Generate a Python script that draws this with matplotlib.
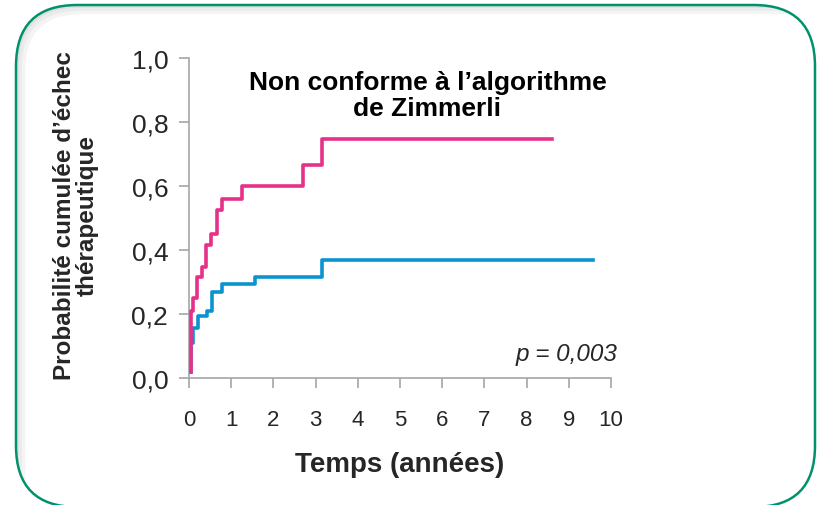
import matplotlib.pyplot as plt
from matplotlib.patches import FancyBboxPatch

plt.rcParams['font.family'] = ['Liberation Sans', 'DejaVu Sans']

# ── DATA ─────────────────────────────────────────────────
# courbe rose (non conforme)
pink_t = [0.05, 0.05, 0.10, 0.18, 0.31, 0.40, 0.53, 0.66, 0.78, 1.25, 2.69, 3.16, 8.61]
pink_p = [0.02, 0.21, 0.25, 0.317, 0.348, 0.416, 0.451, 0.526, 0.558, 0.600, 0.666, 0.747, 0.747]
# courbe bleue
blue_t = [0.04, 0.04, 0.10, 0.22, 0.42, 0.55, 0.79, 1.56, 3.16, 9.58]
blue_p = [0.02, 0.11, 0.155, 0.193, 0.21, 0.268, 0.294, 0.317, 0.369, 0.369]

x_ticks = list(range(0, 11))
y_ticks = [0.0, 0.2, 0.4, 0.6, 0.8, 1.0]
y_ticklabels = ['0,0', '0,2', '0,4', '0,6', '0,8', '1,0']

title = "Non conforme à l’algorithme\nde Zimmerli"
xlabel = 'Temps (années)'
ylabel = 'Probabilité cumulée d’échec\nthérapeutique'
pval = 'p = 0,003'

PINK = '#e6308a'
BLUE = '#0b93d0'
GREEN = '#00936b'
GREY = '#a6a6a6'
TXT = '#262626'

# ── FIGURE ───────────────────────────────────────────────
W, H = 817, 506
fig = plt.figure(figsize=(W / 100, H / 100), dpi=100)

# cadre arrondi vert avec ombre intérieure (haut / gauche)
box_kw = dict(boxstyle='round,pad=0,rounding_size=0.075', transform=fig.transFigure,
              mutation_aspect=W / H)
frame = FancyBboxPatch((16 / W, -2 / H), 799 / W, 502 / H, fc='none', ec=GREEN, lw=1.8,
                       zorder=2, **box_kw)
clip = FancyBboxPatch((16 / W, -2 / H), 799 / W, 502 / H, fc='none', ec='none', **box_kw)
fig.patches.append(clip)
for off, col, lw in [(5, '#f4f4f4', 6), (3, '#ebebeb', 4), (1.5, '#e0e0e0', 2)]:
    # boîte décalée et agrandie : seuls ses bords haut et gauche restent visibles
    sh = FancyBboxPatch(((16 + off) / W, -80 / H), 900 / W, (580 - off) / H, fc='none',
                        ec=col, lw=lw, zorder=1, **box_kw)
    fig.patches.append(sh)
    sh.set_clip_path(clip)
fig.patches.append(frame)

ax = fig.add_axes([189 / W, (H - 379) / H, 422 / W, 320 / H])

ax.step(blue_t, blue_p, where='post', color=BLUE, lw=2.6, zorder=2)
ax.step(pink_t, pink_p, where='post', color=PINK, lw=2.6, zorder=3)

ax.set_xlim(0, 10)
ax.set_ylim(0, 1)
ax.set_xticks(x_ticks)
ax.set_yticks(y_ticks)
ax.set_yticklabels(y_ticklabels)

for s in ['top', 'right']:
    ax.spines[s].set_visible(False)
for s in ['left', 'bottom']:
    ax.spines[s].set_color(GREY)
    ax.spines[s].set_linewidth(1.2)
ax.tick_params(axis='both', colors=GREY, length=7, width=1.2, direction='out')
ax.tick_params(axis='y', labelsize=19, labelcolor=TXT, pad=8)
ax.tick_params(axis='x', labelsize=16, labelcolor=TXT, pad=15)

ax.set_xlabel(xlabel, fontsize=20, fontweight='bold', color=TXT, va='center')
ax.xaxis.set_label_coords(0.5, -0.269)
ax.set_ylabel(ylabel, fontsize=17.5, fontweight='bold', color=TXT, va='center',
              linespacing=1.0)
ax.yaxis.set_label_coords(-0.268, 0.51)

ax.text(5.65, 0.883, title, ha='center', va='center', fontsize=19, fontweight='bold',
        color='black', linespacing=1.1)
ax.text(10.15, 0.075, pval, ha='right', va='center', fontsize=17.5, style='italic',
        color=TXT)

plt.savefig('out.png', dpi=100)
